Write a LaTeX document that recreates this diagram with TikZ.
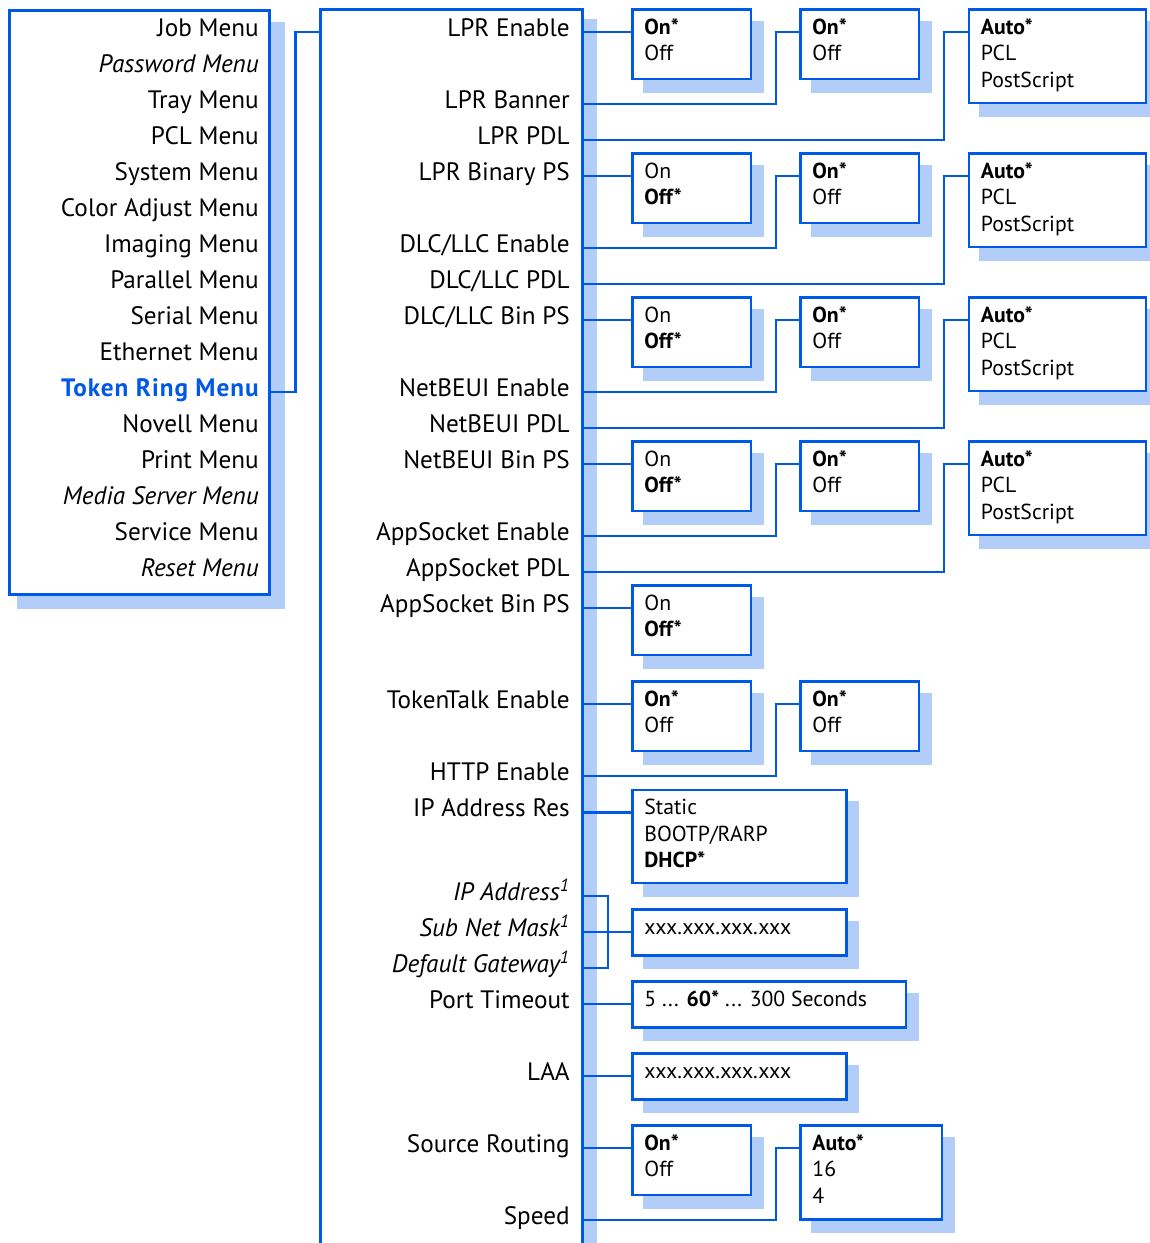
\documentclass[tikz,border=0pt]{standalone}
\usepackage{fontspec}
\setmainfont{PT Sans}
\usetikzlibrary{calc}
\definecolor{lineblue}{RGB}{0,88,230}
\definecolor{shadowblue}{RGB}{178,205,248}
\tikzset{
  conn/.style={draw=lineblue, line width=2.2pt},
  optbox/.style={draw=lineblue, fill=white, line width=2.2pt, inner sep=0pt, outer sep=0pt, anchor=north west},
  lbl/.style={inner sep=0pt, anchor=base east, font=\fontsize{18.9}{21}\selectfont},
  otxt/.style={inner sep=0pt, anchor=base west, font=\fontsize{16.3}{18}\selectfont},
}
\newcommand\obox[5]{%
  \fill[shadowblue] ($(#2,#3)+(10.15,11.15)$) rectangle ($(#2,#3)+(#4,#5)+(12.85,13.85)$);
  \node[optbox, minimum width=#4*0.75pt, minimum height=#5*0.75pt] (#1) at (#2,#3) {};
  \coordinate (#1-in) at ($(#1.north west)+(0,22.5)$);
}
\newcommand\otext[2]{%
  \foreach \txt [count=\i] in {#2} {\node[otxt] (#1-t\i) at ($(#1.north west)+(11.65,24.65+26.5*\i-26.5)$) {\txt};}%
}
\newcommand\porttxt{5 ... \textbf{60*} ... 300 Seconds}
\newcommand\tokenring{\textbf{\addfontfeature{LetterSpace=4}\textcolor{lineblue}{Token Ring Menu}}}
\begin{document}
\begin{tikzpicture}[x=0.75pt,y=-0.75pt]
\useasboundingbox (0,0) rectangle (1150,1243);
% left menu
\fill[shadowblue] (17,22) rectangle (285,609);
\node[optbox, minimum width=260.3*0.75pt, minimum height=584.3*0.75pt] (lb) at (9.35,10.35) {};
% main menu
\fill[shadowblue] (331,19) rectangle (597,1270);
\node[optbox, minimum width=262.5*0.75pt, minimum height=1260*0.75pt] (mid) at (320.3,9.5) {};

% left labels
\foreach \name [count=\i from 0] in {Job Menu,\textit{Password Menu},Tray Menu,PCL Menu,System Menu,Color Adjust Menu,Imaging Menu,Parallel Menu,Serial Menu,Ethernet Menu,\tokenring,Novell Menu,Print Menu,\textit{Media Server Menu},Service Menu,\textit{Reset Menu}}
  {\node[lbl] (l\i) at (259,36+36*\i) {\name};}

% middle labels
\foreach \name/\yy [count=\i] in {LPR Enable/32,LPR Banner/104,LPR PDL/140,LPR Binary PS/176,{DLC/LLC Enable}/248,{DLC/LLC PDL}/284,{DLC/LLC Bin PS}/320,NetBEUI Enable/392,NetBEUI PDL/428,NetBEUI Bin PS/464,AppSocket Enable/536,AppSocket PDL/572,AppSocket Bin PS/608,TokenTalk Enable/704,HTTP Enable/776,IP Address Res/812,\textit{IP Address\textsuperscript{1}}/896,\textit{Sub Net Mask\textsuperscript{1}}/932,\textit{Default Gateway\textsuperscript{1}}/968,Port Timeout/1004,LAA/1076,Source Routing/1148,Speed/1220}
  {\node[lbl] (m\i) at (570,\yy+4) {\name};}

% connector left -> main
\coordinate (tok) at (269.65,392);
\coordinate (lprw) at (320.3,32);
\draw[conn] (tok) -- (295.5,392) -- (295.5,32) -- (lprw);

% four protocol groups
\foreach \k in {0,1,2,3} {
  \pgfmathsetmacro\o{144*\k}
  \obox{g\k-a}{632.5}{9.5+\o}{118.5}{69.5}
  \obox{g\k-b}{800.5}{9.5+\o}{118.5}{69.5}
  \obox{g\k-c}{969}{9.5+\o}{177}{93.5}
  \ifnum\k=0 \otext{g\k-a}{\textbf{On*},Off}\else \otext{g\k-a}{On,\textbf{Off*}}\fi
  \otext{g\k-b}{\textbf{On*},Off}
  \otext{g\k-c}{\textbf{Auto*},PCL,PostScript}
  \coordinate (rb\k) at (582.8,104+\o);
  \coordinate (rp\k) at (582.8,140+\o);
  \draw[conn] (g\k-a-in) -- (g\k-a-in -| mid.east);
  \draw[conn] (rb\k) -| ($(g\k-b-in)+(-24.5,0)$) -- (g\k-b-in);
  \draw[conn] (rp\k) -| ($(g\k-c-in)+(-25,0)$) -- (g\k-c-in);
}

% AppSocket Bin PS
\obox{asb}{632.5}{585.5}{118.5}{69.5}
\otext{asb}{On,\textbf{Off*}}
\draw[conn] (asb-in) -- (asb-in -| mid.east);

% TokenTalk / HTTP
\obox{tt}{632.5}{681.5}{118.5}{69.5}
\otext{tt}{\textbf{On*},Off}
\obox{http}{800.5}{681.5}{118.5}{69.5}
\otext{http}{\textbf{On*},Off}
\coordinate (rhttp) at (582.8,776);
\draw[conn] (tt-in) -- (tt-in -| mid.east);
\draw[conn] (rhttp) -| ($(http-in)+(-24.5,0)$) -- (http-in);

% IP Address Res
\obox{ipr}{632.5}{790}{214}{93}
\otext{ipr}{Static,BOOTP/RARP,\textbf{DHCP*}}
\draw[conn] (ipr-in) -- (ipr-in -| mid.east);

% IP address / mask / gateway
\obox{ipb}{632.5}{909.5}{214}{46}
\otext{ipb}{xxx.xxx.xxx.xxx}
\coordinate (rip) at (582.8,896);
\coordinate (rmask) at (582.8,932);
\coordinate (rgw) at (582.8,968);
\coordinate (brk) at ($(ipb-in)+(-24.5,0)$);
\draw[conn] (rip) -| (brk) |- (rgw);
\draw[conn] (rmask) -- (ipb-in);

% Port Timeout
\obox{pt}{632.5}{981.5}{273.5}{46}
\otext{pt}{\porttxt}
\draw[conn] (pt-in) -- (pt-in -| mid.east);

% LAA
\obox{laa}{632.5}{1053.5}{214}{46}
\otext{laa}{xxx.xxx.xxx.xxx}
\draw[conn] (laa-in) -- (laa-in -| mid.east);

% Source Routing / Speed
\obox{sr}{632.5}{1125.5}{118.5}{69.5}
\otext{sr}{\textbf{On*},Off}
\obox{spd}{800.5}{1125.5}{141.5}{94}
\otext{spd}{\textbf{Auto*},16,4}
\coordinate (rspd) at (582.8,1220);
\draw[conn] (sr-in) -- (sr-in -| mid.east);
\draw[conn] (rspd) -| ($(spd-in)+(-24.5,0)$) -- (spd-in);
\end{tikzpicture}
\end{document}
